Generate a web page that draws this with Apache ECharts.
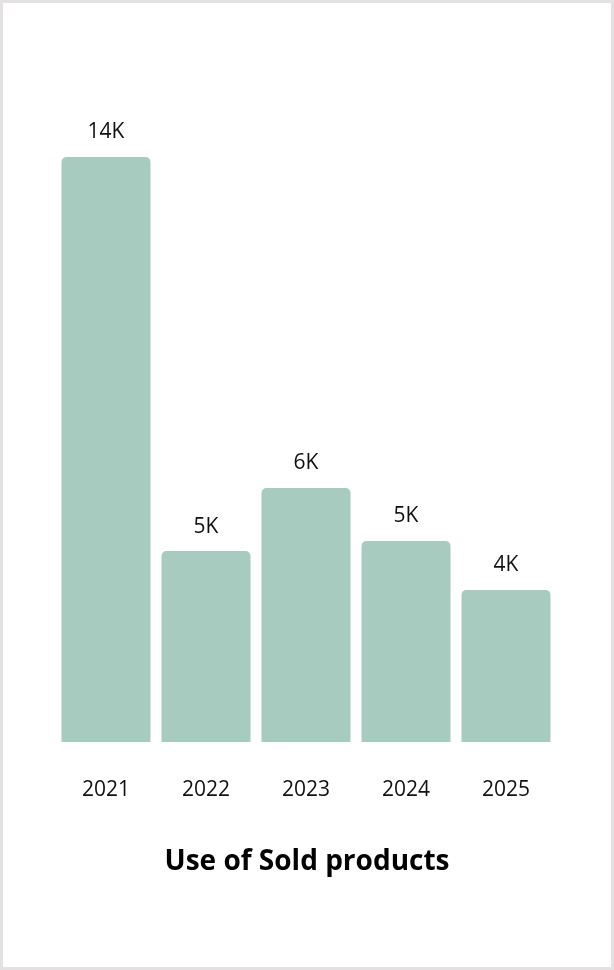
<!DOCTYPE html>
<html><head><meta charset="utf-8">
<script src="https://cdn.jsdelivr.net/npm/echarts@6/dist/echarts.min.js"></script>
<style>html,body{margin:0;padding:0;background:#fff}#c{width:614px;height:970px;box-sizing:border-box;border:3px solid #e3e1e1}</style>
</head><body><div id="c"></div>
<script>
const categories=['2021','2022','2023','2024','2025'];
const values=[14000,4570,6080,4810,3640];
const labels=['14K','5K','6K','5K','4K'];
const chart=echarts.init(document.getElementById('c'));
chart.setOption({
  title:{text:'Use of Sold products',left:'center',top:840,textStyle:{fontFamily:'Open Sans',fontSize:28,fontWeight:'bold',color:'#000'}},
  grid:{left:53,right:55,top:154,bottom:225},
  xAxis:{type:'category',data:categories,axisLine:{show:false},axisTick:{show:false},
    axisLabel:{margin:38,fontSize:21,color:'#111',fontFamily:'Open Sans'}},
  yAxis:{type:'value',min:0,max:14000,show:false,splitLine:{show:false}},
  series:[{type:'bar',data:values,barCategoryGap:'11%',
    itemStyle:{color:'#a8cbbf',borderRadius:[5,5,0,0]},
    label:{show:true,position:'top',distance:14,fontSize:21,color:'#111',fontFamily:'Open Sans',
      formatter:p=>labels[p.dataIndex]}}],
  animation:false
});
</script></body></html>
